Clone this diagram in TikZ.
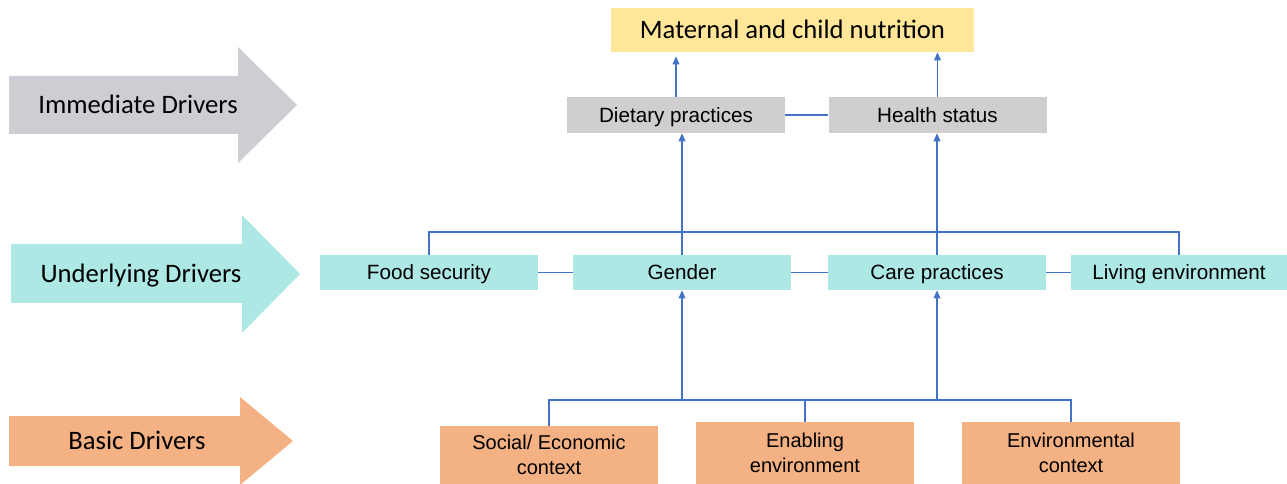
\documentclass[tikz,border=0pt]{standalone}
\usepackage{fontspec}
\setmainfont{Liberation Sans}
\newfontfamily\calibri{Carlito}
\usepackage{tikz}
\usetikzlibrary{arrows.meta, positioning, calc}
\definecolor{titleyellow}{HTML}{FFE699}
\definecolor{immgray}{HTML}{D0CECE}
\definecolor{arrowgray}{HTML}{CDCED3}
\definecolor{undteal}{HTML}{ADE8E5}
\definecolor{basorange}{HTML}{F4B183}
\definecolor{linkblue}{HTML}{4472C4}
\tikzset{
  box/.style={
    rectangle,
    inner sep=0pt,
    text centered,
    minimum width=163.5pt,
    font=\fontsize{15.5}{19}\selectfont
  },
  onerow/.style={text height=11.1pt, text depth=0pt},
  immbox/.style={box, onerow, fill=immgray, minimum height=27pt},
  undbox/.style={box, onerow, fill=undteal, minimum height=26.25pt},
  basbox/.style={box, fill=basorange, align=center, font=\fontsize{15}{18.5}\selectfont},
  link/.style={
    draw=linkblue,
    line width=0.9pt
  },
  arrow/.style={
    link,
    -{Triangle[length=6pt, width=5pt]}
  },
  driver/.style={font=\calibri\fontsize{20}{24}\selectfont, text height=12.9pt, text depth=0pt, inner sep=0pt}
}

\begin{document}
\begin{tikzpicture}[x=0.75pt, y=-0.75pt]
  \useasboundingbox (0,0) rectangle (1287,484);

  % driver arrows on the left
  \fill[arrowgray] (9,76) -- (238,76) -- (238,47) -- (297,105) -- (238,163) -- (238,134) -- (9,134) -- cycle;
  \fill[undteal] (11,244) -- (242,244) -- (242,215) -- (300,274) -- (242,333) -- (242,303) -- (11,303) -- cycle;
  \fill[basorange] (9,416) -- (240,416) -- (240,397) -- (293,441) -- (240,485) -- (240,466) -- (9,466) -- cycle;
  \node[driver] (immediate) at (138,105) {Immediate Drivers};
  \node[driver] (underlying) at (141,274) {Underlying Drivers};
  \node[driver] (basic) at (137,441) {Basic Drivers};

  % outcome
  \node[driver, fill=titleyellow, minimum width=272.25pt, minimum height=33pt] (nutrition) at (792.5,30) {Maternal and child nutrition};

  % immediate
  \node[immbox] (dietary) at (676,115) {Dietary practices};
  \node[immbox] (health) at (937.5,115) {Health status};

  % underlying
  \node[undbox] (food) at (429,272.5) {Food security};
  \node[undbox] (gender) at (682,272.5) {Gender};
  \node[undbox] (care) at (937,272.5) {Care practices};
  \node[undbox, minimum width=162pt] (living) at (1179,272.5) {Living environment};

  % basic
  \node[basbox, minimum height=43.5pt] (social) at (549,455) {Social/ Economic\\context};
  \node[basbox, minimum height=46.5pt] (enabling) at (805,453) {Enabling\\environment};
  \node[basbox, minimum height=46.5pt] (environmental) at (1071,453) {Environmental\\context};

  \coordinate (underbus) at (0,232);
  \coordinate (basicbus) at (0,400);

  % connectors
  \draw[arrow, shorten >=3pt] (dietary.north) -- (dietary.north |- nutrition.south);
  \draw[arrow] (health.north) -- (health.north |- nutrition.south);
  \draw[link] (dietary) -- (health);

  \draw[link] (food) -- (gender);
  \draw[link] (gender) -- (care);
  \draw[link] (care) -- (living);
  \draw[link] (food.north) -- (food.north |- underbus) -| (living.north);
  \draw[arrow] (gender.north) -- (gender.north |- dietary.south);
  \draw[arrow] (care.north) -- (care.north |- health.south);

  \draw[link] (social.north) -- (social.north |- basicbus) -| (environmental.north);
  \draw[link] (enabling.north) -- (enabling.north |- basicbus);
  \draw[arrow] (gender.south |- basicbus) -- (gender.south);
  \draw[arrow] (care.south |- basicbus) -- (care.south);
\end{tikzpicture}
\end{document}
